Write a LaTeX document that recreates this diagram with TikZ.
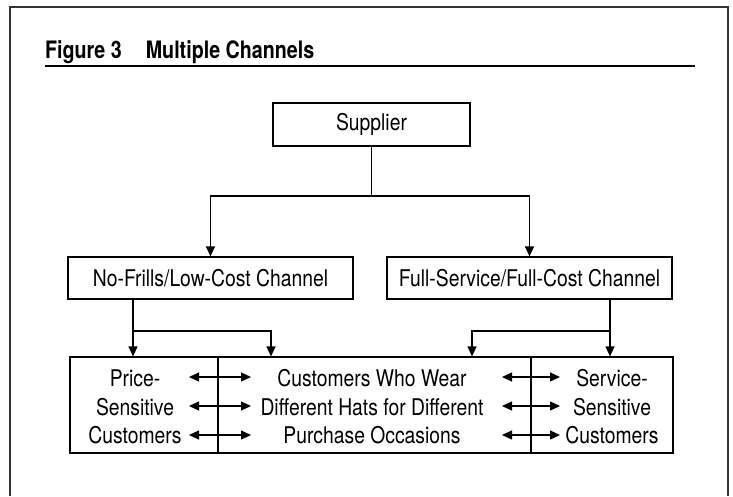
\documentclass[tikz,border=0pt]{standalone}
\usepackage{fontspec}
\setmainfont{TeX Gyre Heros}[FakeStretch=0.84,BoldFeatures={FakeStretch=0.82}]
\usetikzlibrary{arrows.meta}
\tikzset{
  chbox/.style={draw,line width=1.2pt,inner sep=0pt},
  cell/.style={draw,line width=1.2pt,minimum height=96,inner sep=0pt},
  arr/.style={line width=1.2pt,-{Triangle[length=10pt,width=9pt]}},
  dbl/.style={line width=1.2pt,{Triangle[length=10pt,width=9pt]}-{Triangle[length=10pt,width=9pt]}},
  every node/.style={font=\fontsize{23}{28.5}\selectfont}
}
\begin{document}
\begin{tikzpicture}[x=1pt,y=-1pt]
\useasboundingbox (0,0) rectangle (733,496);
\draw[line width=2pt,black!80] (10,496) -- (10,7) -- (728,7) -- (728,496);
\node[anchor=base west,inner sep=0pt] (title) at (45,58) {\fontsize{24}{28}\selectfont\bfseries Figure 3\quad Multiple Channels};
\draw[line width=1.3pt] (45,66) -- (695,66);

\node[chbox,minimum width=197,minimum height=43] (supplier) at (371.5,124.5) {Supplier};
\node[chbox,minimum width=285,minimum height=42] (nofrills) at (210.5,278) {No-Frills/Low-Cost Channel};
\node[chbox,minimum width=285,minimum height=42] (fullserv) at (529.5,278) {Full-Service/Full-Cost Channel};

\node[cell,minimum width=148] (pricecell) at (144,405) {};
\node[cell,minimum width=313] (hatscell) at (374.5,405) {};
\node[cell,minimum width=142] (servcell) at (602,405) {};
\node[align=center,inner sep=0pt] (price) at (135,407) {Price-\\Sensitive\\Customers};
\node[align=center,inner sep=0pt] (hats) at (372,407) {Customers Who Wear\\Different Hats for Different\\Purchase Occasions};
\node[align=center,inner sep=0pt] (service) at (612,407) {Service-\\Sensitive\\Customers};

\coordinate (sj) at (371.5,196);
\coordinate (nj) at (133,331);
\coordinate (fj) at (610,331);
\draw[line width=1.2pt] (supplier) -- (sj);
\draw[arr] (sj) -| (nofrills);
\draw[arr] (sj) -| (fullserv);
\draw[line width=1.2pt] (nj |- nofrills.south) -- (nj);
\draw[arr] (nj) -- (nj |- pricecell.north);
\draw[arr] (nj) -| (271,0 |- hatscell.north);
\draw[line width=1.2pt] (fj |- fullserv.south) -- (fj);
\draw[arr] (fj) -- (fj |- servcell.north);
\draw[arr] (fj) -| (472,0 |- hatscell.north);

\foreach \y in {377,406,435}{
  \draw[dbl] (189,\y) -- (251,\y);
  \draw[dbl] (502,\y) -- (560,\y);
}
\end{tikzpicture}
\end{document}
